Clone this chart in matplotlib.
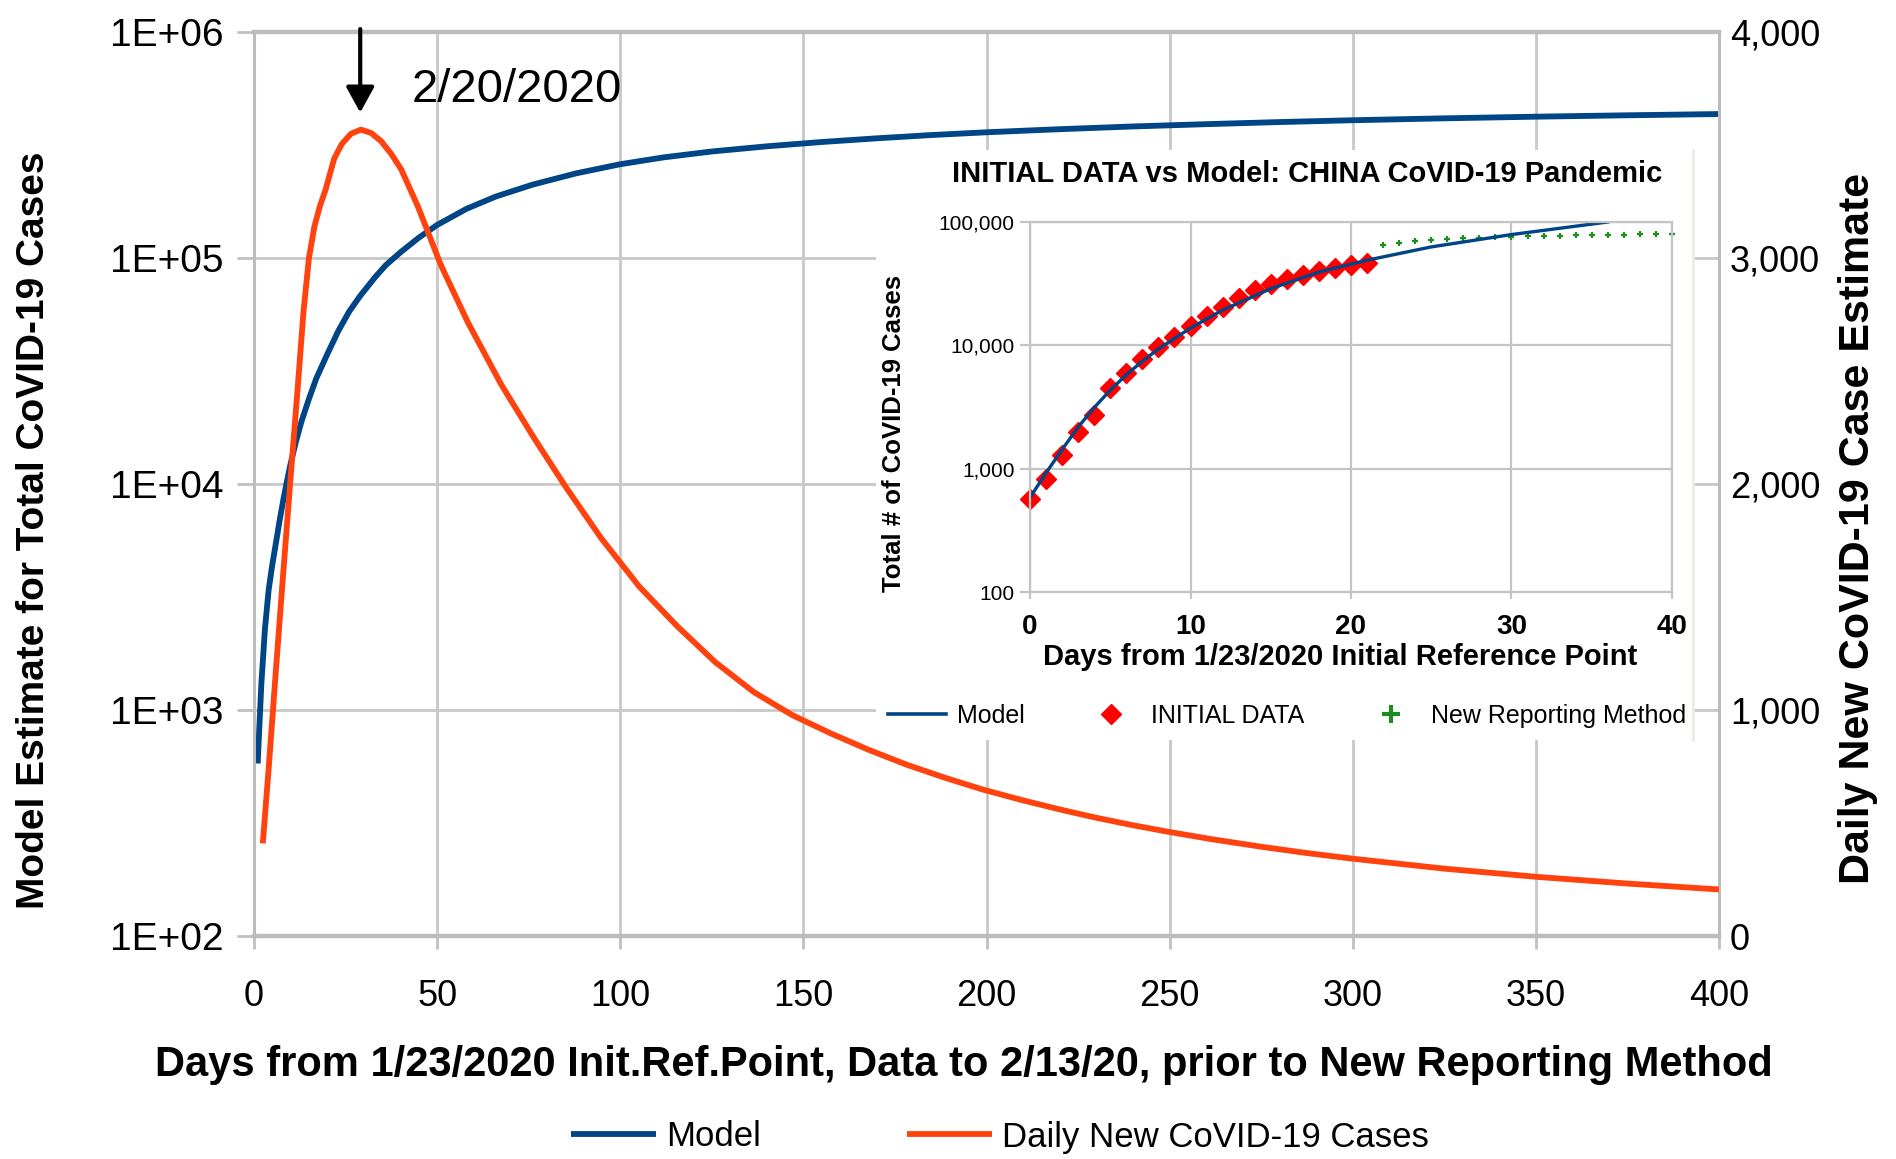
import matplotlib
matplotlib.use('Agg')
import matplotlib.pyplot as plt
from matplotlib.lines import Line2D
from matplotlib.ticker import NullLocator
from matplotlib import font_manager

# ---------------- data ----------------
model_days = [1, 2, 3, 4, 5, 6, 7, 8, 9, 10, 11.5, 13, 15, 17, 20, 23, 26, 29, 33, 36,
              40, 45, 50, 58, 66, 76, 88, 100, 112, 125, 140, 155, 170, 185, 200, 220,
              240, 260, 280, 300, 325, 350, 375, 400]
model_cases = [580, 1300, 2300, 3400, 4400, 5500, 6900, 8500, 10300, 12300, 15500, 19000,
               23800, 29300, 37500, 47500, 58000, 68000, 82000, 93000, 106000, 123000,
               140000, 165000, 187000, 211000, 237000, 260000, 279000, 296000, 312000,
               326000, 338500, 350000, 360000, 371500, 382000, 391000, 399500, 407000,
               415000, 422000, 428000, 433500]

daily_days = [2.4, 4, 6, 8, 10, 12, 13.5, 15, 16.5, 18, 19.5, 21.9, 24, 26.5, 29.2, 32,
              34.7, 37.5, 40.2, 44.7, 51.1, 58.4, 67.5, 76.6, 85, 94.8, 105.2, 115.6, 126,
              136.5, 146.9, 157.4, 167.8, 178.2, 188.7, 199, 210, 220, 230, 240, 250,
              262, 275, 287, 300, 325, 350, 375, 400]
daily_cases = [410, 740, 1180, 1610, 2030, 2440, 2760, 3000, 3140, 3230, 3300, 3440, 3505,
               3550, 3568, 3553, 3517, 3460, 3392, 3230, 2966, 2715, 2440, 2200, 1990, 1760,
               1546, 1370, 1211, 1079, 978, 897, 824, 758, 700, 648, 600, 560, 523, 490,
               460, 427, 395, 368, 342, 298, 262, 232, 206]

peak_day = 29
peak_label = '2/20/2020'

x_ticks = [0, 50, 100, 150, 200, 250, 300, 350, 400]
left_ticks = [1e2, 1e3, 1e4, 1e5, 1e6]
left_labels = ['1E+02', '1E+03', '1E+04', '1E+05', '1E+06']
right_ticks = [0, 1000, 2000, 3000, 4000]
right_labels = ['0', '1,000', '2,000', '3,000', '4,000']

# inset
inset_model_days = [0, 1, 2, 3, 4, 5, 6, 7, 8, 10, 12, 15, 18, 21, 25, 30, 36]
inset_model_cases = [583, 925, 1430, 2170, 3130, 4330, 5770, 7430, 9350, 13800, 19300,
                     28800, 39300, 49000, 62800, 79100, 100000]
initial_days = list(range(0, 22))
initial_cases = [571, 830, 1287, 1975, 2744, 4515, 5974, 7711, 9692, 11791, 14380, 17205,
                 20438, 24324, 28018, 31161, 34546, 37198, 40171, 42638, 44653, 46472]
new_days = list(range(22, 41))
new_cases = [64600, 67500, 69500, 71000, 72500, 73700, 74600, 75400, 76200, 76900, 77300,
             77700, 78100, 78500, 78800, 79100, 79400, 79700, 80000]
inset_x_ticks = [0, 10, 20, 30, 40]
inset_y_ticks = [100, 1000, 10000, 100000]
inset_y_labels = ['100', '1,000', '10,000', '100,000']

BLUE = '#004586'
ORANGE = '#ff420e'
GRID = '#c8c8c8'

plt.rcParams['font.family'] = ['Liberation Sans', 'DejaVu Sans']
_names = {f.name for f in font_manager.fontManager.ttflist}
if 'Liberation Sans Narrow' in _names:
    TICKFAM = 'Liberation Sans Narrow'
    XT_SIZE, LT_SIZE, RT_SIZE, LEG_SIZE = 31, 33, 31, 31
else:
    TICKFAM = 'Liberation Sans'
    XT_SIZE, LT_SIZE, RT_SIZE, LEG_SIZE = 26, 28, 26, 25

W, H = 1896, 1159
fig = plt.figure(figsize=(W / 100, H / 100), dpi=100)


def fx(px):
    return px / W


def fy(py):
    return 1 - py / H


# ---------------- main axes ----------------
L, R, T, B = 254, 1719, 32, 936
ax = fig.add_axes([fx(L), fy(B), (R - L) / W, (B - T) / H])
ax.set_yscale('log')
ax.set_xlim(0, 400)
ax.set_ylim(1e2, 1e6)
ax.yaxis.set_minor_locator(NullLocator())
ax.set_xticks(x_ticks)
ax.set_xticklabels([str(v) for v in x_ticks])
ax.set_yticks(left_ticks)
ax.set_yticklabels(left_labels)
ax.grid(True, color=GRID, lw=2.0)
ax.set_axisbelow(True)
for side, s in ax.spines.items():
    s.set_color('#bcbcbc')
    s.set_linewidth(3.2 if side in ('top', 'bottom') else 2.2)
ax.tick_params(axis='y', length=12, width=2, color='#c0c0c0', pad=10,
               labelsize=LT_SIZE, labelfontfamily=TICKFAM)
ax.tick_params(axis='x', length=9, width=2, color='#c0c0c0', pad=22,
               labelsize=XT_SIZE, labelfontfamily=TICKFAM)

h_model, = ax.plot(model_days, model_cases, color=BLUE, lw=4.2, label='Model',
                   solid_capstyle='butt')

ax2 = ax.twinx()
ax2.set_ylim(0, 4000)
ax2.set_yticks(right_ticks)
ax2.set_yticklabels(right_labels)
for s in ax2.spines.values():
    s.set_visible(False)
ax2.tick_params(axis='y', length=0, pad=8, labelsize=RT_SIZE, labelfontfamily=TICKFAM)
h_daily, = ax2.plot(daily_days, daily_cases, color=ORANGE, lw=4.2,
                    label='Daily New CoVID-19 Cases', solid_capstyle='butt')

# annotation arrow + date
ax.annotate('', xy=(peak_day, 4.4e5), xytext=(peak_day, 1.03e6),
            arrowprops=dict(arrowstyle='-|>,head_length=0.6,head_width=0.33',
                            color='black', lw=3, mutation_scale=26,
                            shrinkA=0, shrinkB=0),
            annotation_clip=False)
ax.text(peak_day + 14, 4.9e5, peak_label, fontsize=34, va='baseline', ha='left')

# axis titles
fig.text(fx(964), fy(1065), 'Days from 1/23/2020 Init.Ref.Point, Data to 2/13/20, '
         'prior to New Reporting Method', ha='center', va='center',
         fontsize=30, fontweight='bold')
fig.text(fx(34), fy(530), 'Model Estimate for Total CoVID-19 Cases', rotation=90,
         ha='center', va='center', fontsize=28, fontweight='bold')
fig.text(fx(1858), fy(528), 'Daily New CoVID-19 Case Estimate', rotation=90,
         ha='center', va='center', fontsize=31, fontweight='bold')

fig.legend(handles=[h_model, h_daily], loc='center', bbox_to_anchor=(fx(1000), fy(1137)),
           ncol=2, frameon=False, prop={'family': TICKFAM, 'size': LEG_SIZE},
           handlelength=2.45 * 25 / LEG_SIZE, handletextpad=0.3 * 25 / LEG_SIZE,
           columnspacing=4.2 * 25 / LEG_SIZE)

# ---------------- inset ----------------
box = fig.add_axes([fx(876), fy(740), (1693 - 876) / W, (740 - 150) / H], zorder=10)
box.set_facecolor('white')
box.set_xticks([])
box.set_yticks([])
for side, s in box.spines.items():
    s.set_visible(side == 'right')
box.spines['right'].set_color('#ecece6')
box.spines['right'].set_linewidth(2)

ins = fig.add_axes([fx(1030), fy(592), (1672 - 1030) / W, (592 - 222) / H], zorder=11)
ins.set_yscale('log')
ins.set_xlim(0, 40)
ins.set_ylim(100, 100000)
ins.yaxis.set_minor_locator(NullLocator())
ins.set_xticks(inset_x_ticks)
ins.set_xticklabels([str(v) for v in inset_x_ticks], fontweight='bold')
ins.set_yticks(inset_y_ticks)
ins.set_yticklabels(inset_y_labels)
ins.grid(True, color='#c4c4c4', lw=1.6)
ins.set_axisbelow(True)
for s in ins.spines.values():
    s.set_color('#c4c4c4')
    s.set_linewidth(1.6)
ins.tick_params(axis='y', length=7, width=1.6, color='#c4c4c4', pad=4, labelsize=15)
ins.tick_params(axis='x', length=5, width=1.6, color='#c4c4c4', pad=11, labelsize=20)
ins.set_facecolor('white')

ins.plot(initial_days, initial_cases, ls='none', marker='D', ms=10, color='#ff0000',
         mec='#ff0000', label='INITIAL DATA', clip_on=False)
ins.plot(new_days, new_cases, ls='none', marker='+', ms=4, mew=1.6, color='#1e8c1e',
         label='New Reporting Method', clip_on=False)
ins.plot(inset_model_days, inset_model_cases, color=BLUE, lw=2.4, label='Model')

fig.text(fx(1307), fy(174), 'INITIAL DATA vs Model: CHINA CoVID-19 Pandemic',
         ha='center', va='center', fontsize=21, fontweight='bold', zorder=20)
fig.text(fx(894), fy(433), 'Total # of CoVID-19 Cases', rotation=90, ha='center',
         va='center', fontsize=18.5, fontweight='bold', zorder=20)
fig.text(fx(1340), fy(657), 'Days from 1/23/2020 Initial Reference Point', ha='center',
         va='center', fontsize=21, fontweight='bold', zorder=20)

leg_handles = [
    Line2D([], [], color=BLUE, lw=2.6, label='Model'),
    Line2D([], [], ls='none', marker='D', ms=10, color='#ff0000', label='INITIAL DATA'),
    Line2D([], [], ls='none', marker='+', ms=13, mew=3, color='#1e8c1e',
           label='New Reporting Method'),
]
ileg = ins.legend(handles=leg_handles, loc='center', bbox_to_anchor=(fx(1287), fy(716)),
                  bbox_transform=fig.transFigure, ncol=3, frameon=False, fontsize=18,
                  handlelength=2.3, handletextpad=0.45, columnspacing=2.3)

fig.savefig('out.png', dpi=100, facecolor='white')
